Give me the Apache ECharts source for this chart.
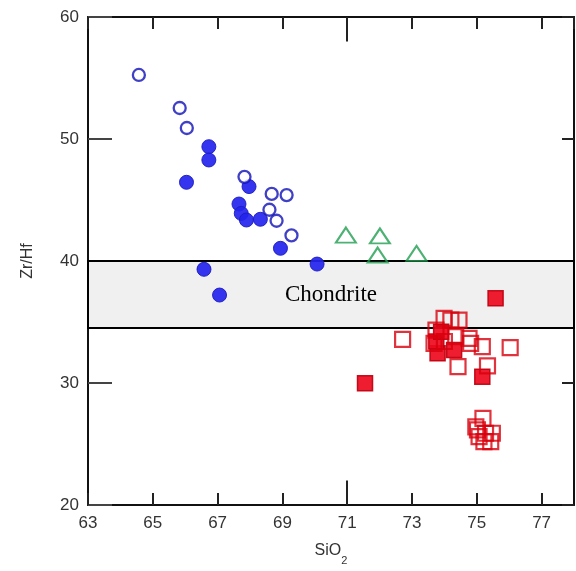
<!DOCTYPE html>
<html>
<head>
<meta charset="utf-8">
<script src="https://cdn.jsdelivr.net/npm/echarts@6/dist/echarts.min.js"></script>
<style>
  html, body { margin: 0; padding: 0; background: #fff; }
  #chart { width: 576px; height: 571px; }
</style>
</head>
<body>
<div id="chart"></div>
<script>
// SiO2 vs Zr/Hf
const blueOpen = [
  [64.57, 55.25], [65.83, 52.54], [66.05, 50.9], [67.83, 46.9], [68.67, 45.5],
  [69.13, 45.4], [68.6, 44.2], [68.82, 43.3], [69.28, 42.1]
];
const blueFilled = [
  [66.73, 49.37], [66.73, 48.28], [66.04, 46.45], [67.97, 46.1], [67.66, 44.67],
  [67.73, 43.9], [67.89, 43.36], [68.32, 43.42], [68.94, 41.04], [70.07, 39.75],
  [66.58, 39.32], [67.06, 37.21]
];
const greenTri = [
  [70.96, 42.13], [72.01, 42.05], [71.94, 40.49], [73.14, 40.63]
];
const redFilled = [
  [71.55, 29.98], [75.58, 36.94], [73.79, 32.43], [74.3, 32.7], [75.17, 30.52],
  [73.75, 33.4], [73.9, 34.2]
];
const redOpen = [
  [72.71, 33.58], [76.03, 32.9], [74.42, 31.34], [75.17, 32.98], [75.33, 31.4],
  [74.76, 33.66], [73.99, 35.3], [74.45, 35.16], [74.2, 35.16], [73.74, 34.34],
  [74.35, 33.8], [74.81, 33.25], [73.68, 33.25], [74.0, 33.4],
  [75.19, 27.1], [75.02, 26.15], [75.07, 25.6], [75.27, 25.88], [75.48, 25.88],
  [75.43, 25.19], [75.22, 25.19], [74.97, 26.4]
];
const chondrite = [34.5, 40];
const xRange = [63, 78];
const yRange = [20, 60];

const chart = echarts.init(document.getElementById("chart"));
const labelFont = { fontFamily: "Liberation Sans", fontSize: 17, color: "#333" };

const option = {
  animation: false,
  grid: { left: 88, right: 2, top: 17, bottom: 66, containLabel: false },
  xAxis: [
    {
      type: "value",
      min: xRange[0],
      max: xRange[1],
      interval: 2,
      name: "{a|SiO}{b|2}",
      nameLocation: "middle",
      nameGap: 38,
      nameTextStyle: {
        rich: {
          a: { fontFamily: "Liberation Sans", fontSize: 16, color: "#333" },
          b: { fontFamily: "Liberation Sans", fontSize: 11, color: "#333", verticalAlign: "bottom", padding: [0, 0, -7, 0] }
        }
      },
      axisLine: { lineStyle: { color: "#111", width: 2 } },
      axisTick: { inside: true, length: 12, lineStyle: { color: "#222", width: 2 } },
      axisLabel: Object.assign({ margin: 10, showMaxLabel: false }, labelFont),
      splitLine: { show: false }
    },
    {
      type: "value",
      position: "top",
      min: xRange[0],
      max: xRange[1],
      interval: 2,
      axisLine: { lineStyle: { color: "#111", width: 2 } },
      axisTick: { inside: true, length: 12, lineStyle: { color: "#222", width: 2 } },
      axisLabel: { show: false },
      splitLine: { show: false }
    }
  ],
  yAxis: [
    {
      type: "value",
      min: yRange[0],
      max: yRange[1],
      interval: 10,
      name: "Zr/Hf",
      nameLocation: "middle",
      nameGap: 52,
      nameTextStyle: { fontFamily: "Liberation Sans", fontSize: 16, color: "#333" },
      axisLine: { lineStyle: { color: "#111", width: 2 } },
      axisTick: { inside: true, length: 24, lineStyle: { color: "#444", width: 2 } },
      axisLabel: Object.assign({ margin: 9 }, labelFont),
      splitLine: { show: false }
    },
    {
      type: "value",
      position: "right",
      min: yRange[0],
      max: yRange[1],
      interval: 10,
      axisLine: { lineStyle: { color: "#111", width: 2 } },
      axisTick: { inside: true, length: 12, lineStyle: { color: "#222", width: 2 } },
      axisLabel: { show: false },
      splitLine: { show: false }
    }
  ],
  series: [
    {
      name: "band",
      type: "scatter",
      data: [],
      z: 1,
      markArea: {
        silent: true,
        itemStyle: { color: "#f0f0f0", borderColor: "#000", borderWidth: 2 },
        label: {
          show: true,
          position: "inside",
          formatter: "Chondrite",
          fontFamily: "Liberation Serif",
          fontSize: 23,
          color: "#000"
        },
        data: [[{ xAxis: xRange[0], yAxis: chondrite[0] }, { xAxis: xRange[1], yAxis: chondrite[1] }]]
      },
      markLine: {
        silent: true,
        symbol: "none",
        label: { show: false },
        lineStyle: { color: "#222", width: 2, type: "solid" },
        data: [
          [{ coord: [71, yRange[0]] }, { coord: [71, yRange[0] + 2] }],
          [{ coord: [71, yRange[1]] }, { coord: [71, yRange[1] - 2] }]
        ]
      }
    },
    {
      name: "blueFilled",
      type: "scatter",
      symbol: "circle",
      symbolSize: 14,
      z: 3,
      itemStyle: { color: "#2424ee", opacity: 0.92, borderColor: "#1c1cc0", borderWidth: 1 },
      data: blueFilled
    },
    {
      name: "blueOpen",
      type: "scatter",
      symbol: "circle",
      symbolSize: 12,
      z: 4,
      itemStyle: { color: "#fff", borderColor: "#1010b8", borderWidth: 2.3 },
      data: blueOpen
    },
    {
      name: "greenTri",
      type: "scatter",
      symbol: "triangle",
      symbolSize: [20, 15],
      z: 3,
      itemStyle: { color: "rgba(255,255,255,0)", borderColor: "#1f9e50", borderWidth: 2 },
      data: greenTri
    },
    {
      name: "redFilled",
      type: "scatter",
      symbol: "rect",
      symbolSize: 15,
      z: 3,
      itemStyle: { color: "#ee0a1e", opacity: 0.92, borderColor: "#c00010", borderWidth: 1.5 },
      data: redFilled
    },
    {
      name: "redOpen",
      type: "scatter",
      symbol: "rect",
      symbolSize: 15,
      z: 4,
      itemStyle: { color: "rgba(255,255,255,0)", borderColor: "#d8000c", borderWidth: 2.2 },
      data: redOpen
    }
  ]
};
chart.setOption(option);
</script>
</body>
</html>
